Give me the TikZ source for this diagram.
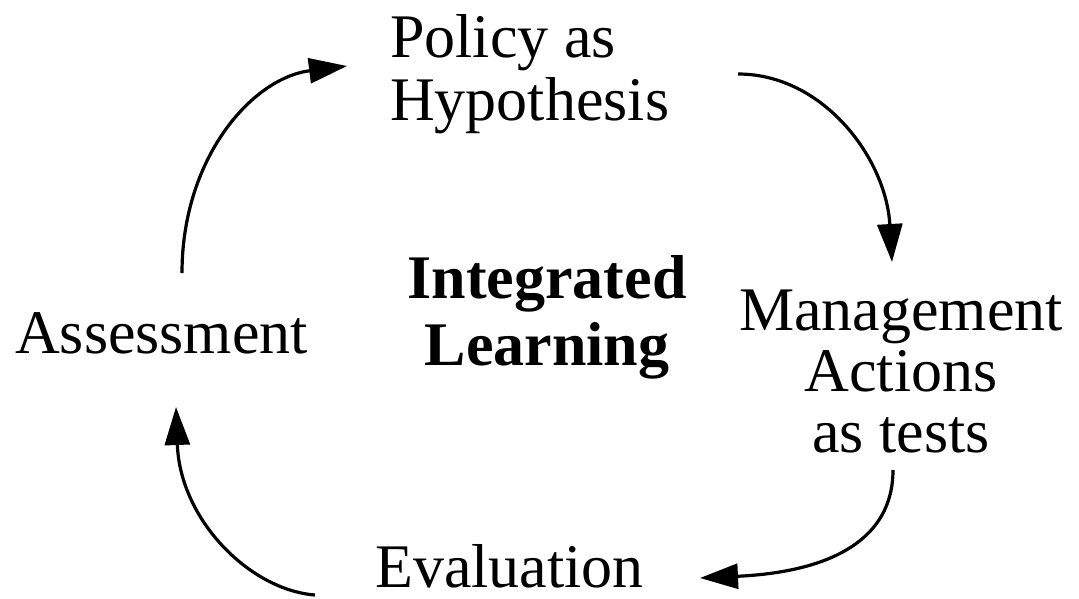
\documentclass[tikz,border=0pt]{standalone}
\usepackage{fontspec}
\setmainfont{Liberation Serif}
\usetikzlibrary{arrows.meta}
\begin{document}
\begin{tikzpicture}[x=1pt,y=-1pt,
  lbl/.style={inner sep=0pt, font=\fontsize{62}{63}\selectfont},
  boldlbl/.style={inner sep=0pt, font=\fontsize{62}{67}\selectfont\bfseries},
  cyc/.style={line width=3.2pt, -{Triangle[length=38pt,width=25pt]}}]
\useasboundingbox (0,0) rectangle (1079,598);
\node[lbl, anchor=base west, align=left] (pol) at (390,120) {Policy as\\Hypothesis};
\node[boldlbl, anchor=base, align=center] (int) at (547,365) {Integrated\\Learning};
\node[lbl, anchor=base west] (ass) at (15,353) {Assessment};
\node[lbl, anchor=base, align=center, font=\fontsize{62}{61}\selectfont] (man) at (901,452) {Management\\Actions\\as tests};
\node[lbl, anchor=base west] (eva) at (375,587) {Evaluation};
\coordinate (a1s) at (182,273);
\coordinate (a1e) at (347,66);
\coordinate (a2s) at (738,74);
\coordinate (a2e) at (892,262);
\coordinate (a3s) at (893,470);
\coordinate (a3e) at (700,578);
\coordinate (a4s) at (315,595);
\coordinate (a4e) at (176,407);
\draw[cyc] (a1s) .. controls (182,158) and (252,78) .. (a1e);
\draw[cyc] (a2s) .. controls (823,74) and (886,158) .. (a2e);
\draw[cyc] (a3s) .. controls (893,540) and (830,572) .. (a3e);
\draw[cyc] (a4s) .. controls (250,590) and (180,520) .. (a4e);
\end{tikzpicture}
\end{document}
